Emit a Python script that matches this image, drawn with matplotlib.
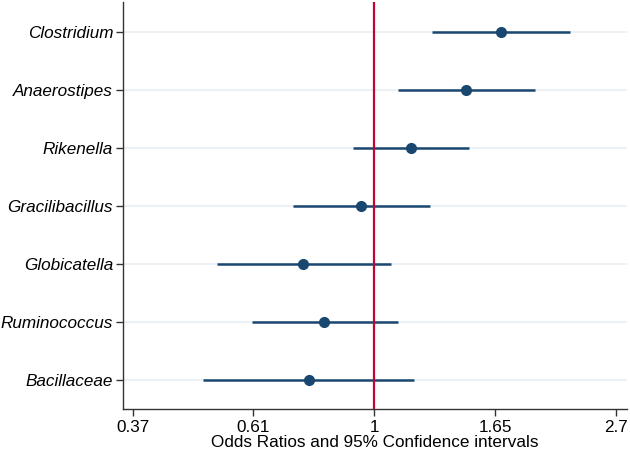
import numpy as np
import matplotlib
matplotlib.use("Agg")
import matplotlib.pyplot as plt

plt.rcParams['font.family'] = ['Liberation Sans', 'DejaVu Sans']

# data (odds ratios with 95% CI), bottom to top
taxa = ["Bacillaceae", "Ruminococcus", "Globicatella", "Gracilibacillus",
        "Rikenella", "Anaerostipes", "Clostridium"]
odds = [0.764, 0.813, 0.746, 0.948, 1.165, 1.463, 1.690]
ci_low = [0.493, 0.602, 0.521, 0.716, 0.917, 1.104, 1.271]
ci_high = [1.180, 1.104, 1.073, 1.260, 1.481, 1.945, 2.248]
tick_vals = [0.37, 0.61, 1, 1.65, 2.7]

navy = "#1a476f"
red = "#c10534"

fig = plt.figure(figsize=(6.3, 4.55), dpi=100)
ax = fig.add_axes([0.195, 0.101, 0.8, 0.8946])

ypos = np.arange(1, len(taxa) + 1)

for y in ypos:
    ax.axhline(y, color="#eaf0f5", lw=1.3, zorder=0)

ax.hlines(ypos, ci_low, ci_high, color=navy, lw=1.8, zorder=2)
ax.plot(odds, ypos, "o", color=navy, ms=7, zorder=3)
ax.axvline(1, color=red, lw=1.6, zorder=4)

ax.set_xscale("log")
ax.set_xlim(np.exp(-1.04), np.exp(1.045))
ax.set_ylim(0.5, 7.52)
ax.set_xticks([np.exp(-1), np.exp(-0.5), 1, np.exp(0.5), np.exp(1)])
ax.set_xticklabels([str(v) for v in tick_vals])
ax.xaxis.set_minor_locator(matplotlib.ticker.NullLocator())
ax.set_yticks(ypos)
ax.set_yticklabels(taxa, style="italic")

ax.tick_params(axis="both", labelsize=12.3, length=5, width=1, color="#333333", pad=2)
ax.tick_params(axis="x", pad=3)
ax.set_xlabel("Odds Ratios and 95% Confidence intervals", fontsize=12.3, labelpad=0)

for s in ["top", "right"]:
    ax.spines[s].set_visible(False)
for s in ["left", "bottom"]:
    ax.spines[s].set_color("#333333")
    ax.spines[s].set_linewidth(1)

fig.savefig("out.png", dpi=100)
